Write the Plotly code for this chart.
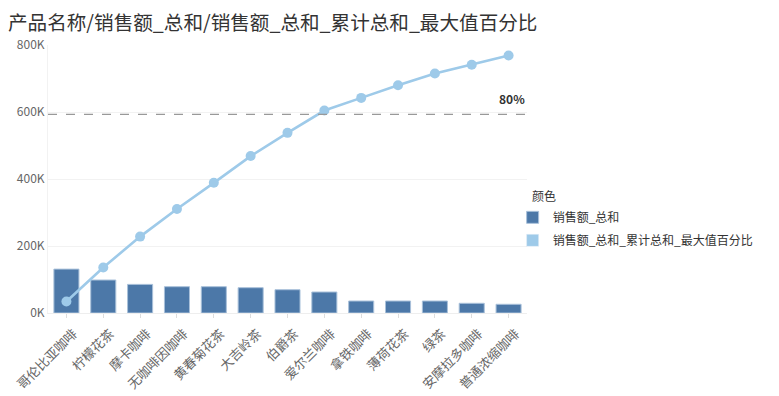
import plotly.graph_objects as go

categories = ["哥伦比亚咖啡", "柠檬花茶", "摩卡咖啡", "无咖啡因咖啡", "黄春菊花茶", "大吉岭茶",
              "伯爵茶", "爱尔兰咖啡", "拿铁咖啡", "薄荷花茶", "绿茶", "安摩拉多咖啡", "普通浓缩咖啡"]
sales_sum = [131000, 98500, 85400, 78500, 78500, 75500, 69500, 62700, 35800, 35800, 35800, 29000, 26000]
cum_pct = [16.3, 27.9, 38.4, 47.8, 56.7, 65.8, 73.7, 81.3, 85.6, 89.9, 93.9, 96.9, 100.0]
y_tick_vals = [0, 200000, 400000, 600000, 800000]
y_tick_text = ["0K", "200K", "400K", "600K", "800K"]
threshold_pct = 80
threshold_label = "80%"

bar_name = "销售额_总和"
line_name = "销售额_总和_累计总和_最大值百分比"
bar_color = "#4c78a8"
line_color = "#9ecae9"
font_family = "Noto Sans CJK SC, Noto Sans, sans-serif"

# the page body adds an 8px margin, so the figure is sized to fit inside the window
W, H = 771, 388
L, R, T, B = 40, 252, 37, 83

fig = go.Figure()
fig.add_trace(go.Bar(
    x=categories, y=sales_sum, name=bar_name,
    marker=dict(color=bar_color, line=dict(color="#a9c1da", width=1)),
    legendgroup="a",
))
fig.add_trace(go.Scatter(
    x=categories, y=cum_pct, name=line_name, yaxis="y2",
    mode="lines+markers",
    line=dict(color=line_color, width=2.6),
    marker=dict(color=line_color, size=10),
    showlegend=False,
))
# legend swatch for the line series (square, as in the reference)
fig.add_trace(go.Bar(
    x=[categories[0]], y=[None], name=line_name,
    marker=dict(color=line_color), legendgroup="b",
))

fig.add_shape(type="line", xref="paper", x0=0, x1=1, yref="y2",
              y0=threshold_pct, y1=threshold_pct,
              line=dict(color="#999999", width=1.2, dash="dash"))
fig.add_annotation(x=1, xref="paper", xanchor="right", y=threshold_pct, yref="y2",
                   yanchor="bottom", yshift=5, text="<b>%s</b>" % threshold_label,
                   showarrow=False, font=dict(size=12, color="#333333", family=font_family))
fig.add_annotation(x=1.006, xref="paper", xanchor="left", y=0.44, yref="paper",
                   yanchor="middle", text="颜色", showarrow=False,
                   font=dict(size=12, color="#333333", family=font_family))

fig.update_layout(
    width=W, height=H,
    margin=dict(l=L, r=R, t=T, b=B, autoexpand=False),
    paper_bgcolor="white", plot_bgcolor="white",
    font=dict(family=font_family, size=12, color="#666666"),
    title=dict(text="产品名称/销售额_总和/销售额_总和_累计总和_最大值百分比",
               x=0.0, xanchor="left", y=1 - 15 / H, yanchor="middle", automargin=False,
               font=dict(size=19.6, color="#333333", family=font_family)),
    barmode="overlay", bargap=0.32,
    showlegend=True,
    legend=dict(x=0.97, xanchor="left", y=0.411, yanchor="top",
                font=dict(size=12, color="#333333"), tracegroupgap=4,
                bgcolor="rgba(0,0,0,0)"),
    xaxis=dict(tickangle=-45, showgrid=False, showline=True, linecolor="#eeeeee",
               range=[-0.5, len(categories) - 0.5],
               ticks="outside", ticklen=4, tickcolor="#dddddd", automargin=False,
               ticklabelshift=7, ticklabelstandoff=3,
               tickfont=dict(size=13, color="#666666")),
    yaxis=dict(range=[0, 800000], tickvals=y_tick_vals, ticktext=y_tick_text,
               showgrid=True, gridcolor="#f2f2f2", zeroline=False, automargin=False,
               showline=True, linecolor="#f2f2f2",
               tickfont=dict(size=12, color="#666666")),
    yaxis2=dict(range=[12.4, 103.6], overlaying="y", side="right",
                visible=False, showgrid=False, automargin=False),
)

fig.write_html("out.html")
